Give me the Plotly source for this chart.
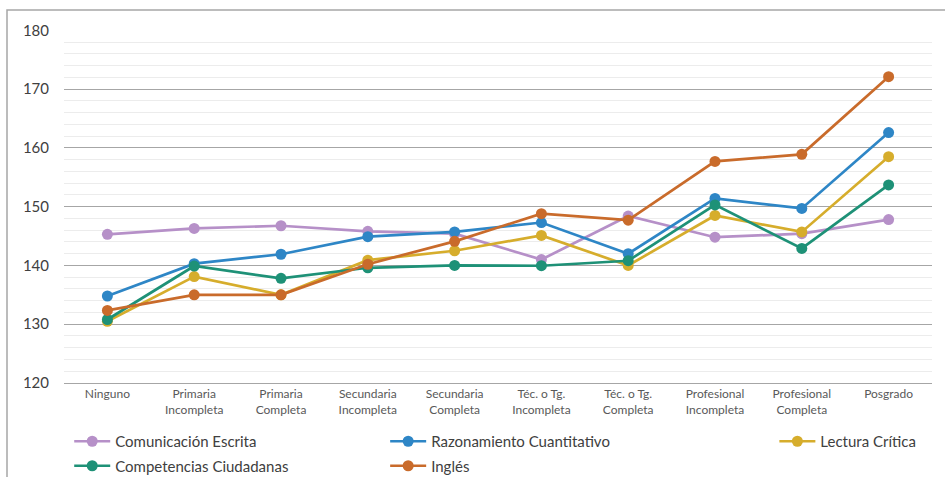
import plotly.graph_objects as go

categories = ["Ninguno", "Primaria<br>Incompleta", "Primaria<br>Completa", "Secundaria<br>Incompleta",
              "Secundaria<br>Completa", "Téc. o Tg.<br>Incompleta", "Téc. o Tg.<br>Completa",
              "Profesional<br>Incompleta", "Profesional<br>Completa", "Posgrado"]

comunicacion = [145.3, 146.3, 146.75, 145.8, 145.4, 141.0, 148.4, 144.8, 145.4, 147.8]
razonamiento = [134.8, 140.3, 141.9, 144.9, 145.7, 147.3, 142.0, 151.4, 149.7, 162.6]
lectura = [130.5, 138.1, 135.0, 140.9, 142.5, 145.1, 140.0, 148.5, 145.7, 158.5]
competencias = [130.8, 139.9, 137.8, 139.6, 140.0, 139.95, 140.8, 150.3, 142.9, 153.7]
ingles = [132.35, 135.0, 135.0, 140.2, 144.1, 148.8, 147.7, 157.7, 158.9, 172.1]

series = [
    ("Comunicación Escrita", comunicacion, "#B690C8", "legend"),
    ("Razonamiento Cuantitativo", razonamiento, "#2E86C6", "legend2"),
    ("Lectura Crítica", lectura, "#D6AD2C", "legend3"),
    ("Competencias Ciudadanas", competencias, "#1E9177", "legend"),
    ("Inglés", ingles, "#C96B2B", "legend2"),
]

FONT = "Lato, 'Open Sans', sans-serif"

fig = go.Figure()
for name, vals, color, leg in series:
    fig.add_trace(go.Scatter(
        x=categories, y=vals, name=name, mode="lines+markers",
        line=dict(color=color, width=2.7),
        marker=dict(color=color, size=11),
        legend=leg, legendgroup=name,
    ))

legend_common = dict(orientation="v", yanchor="top", xanchor="left",
                      font=dict(family=FONT, size=15, color="#404040"),
                      bgcolor="rgba(0,0,0,0)", tracegroupgap=2, itemwidth=36)

ly = (383 - 425) / 353

fig.update_layout(
    width=945, height=477,
    margin=dict(l=64, r=13, t=30, b=94, autoexpand=False),
    paper_bgcolor="white", plot_bgcolor="white",
    font=dict(family=FONT),
    showlegend=True,
    legend=dict(x=0.006, y=ly, **legend_common),
    legend2=dict(x=0.370, y=ly, **legend_common),
    legend3=dict(x=0.8184, y=ly, **legend_common),
    xaxis=dict(
        type="category", showgrid=False, showline=True, linecolor="#A6A6A6", linewidth=1,
        zeroline=False,
        tickfont=dict(family=FONT, size=12, color="#595959"),
        ticks="", range=[-0.5, 9.5],
    ),
    yaxis=dict(
        range=[120, 180.05], dtick=10, tick0=120,
        showgrid=True, gridcolor="#A6A6A6", gridwidth=1,
        zeroline=False, showline=False,
        tickfont=dict(family=FONT, size=15, color="#404040"),
        ticks="", ticklabelstandoff=14,
        minor=dict(dtick=2, showgrid=True, gridcolor="#ECECEC", gridwidth=1),
    ),
    shapes=[
        dict(type="rect", xref="paper", yref="paper",
             x0=(7 - 64) / 868, x1=(960 - 64) / 868,
             y0=(383 - 500) / 353, y1=1 + 20 / 353,
             line=dict(color="#A6A6A6", width=1.5), fillcolor="rgba(0,0,0,0)", layer="below"),
    ],
)

fig.write_html("out.html", config={"displayModeBar": False},
               post_script="document.body.style.margin='0';document.body.style.overflow='hidden';")
